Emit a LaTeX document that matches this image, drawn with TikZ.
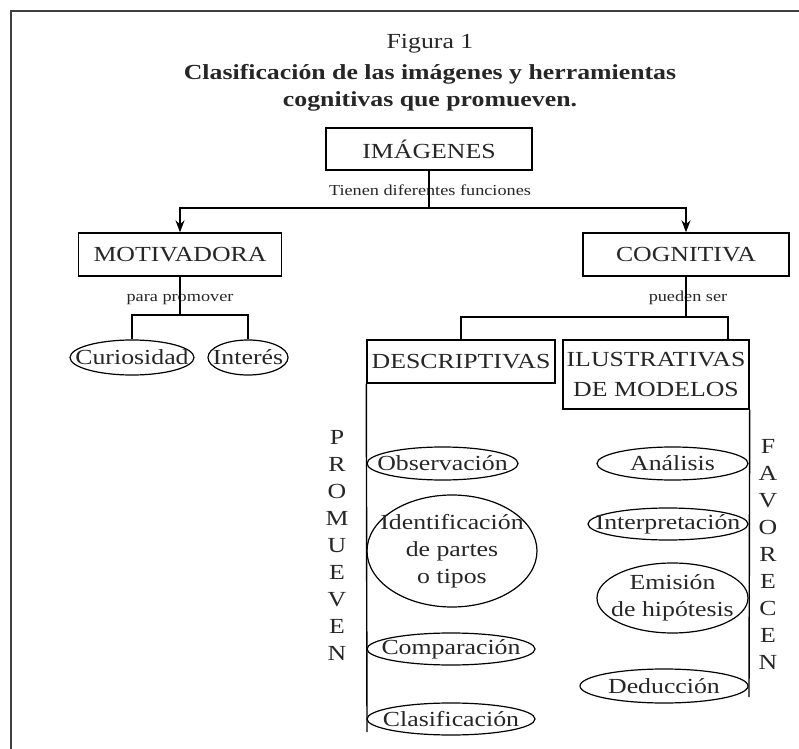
\documentclass[tikz,border=0pt]{standalone}
\usepackage{fontspec}
\setmainfont{Liberation Serif}[FakeStretch=1.2]
\usetikzlibrary{positioning,arrows.meta,shapes.geometric}

\begin{document}
\begin{tikzpicture}[x=0.5pt, y=-0.5pt,
    font=\fontsize{10.75}{13.5}\selectfont, text=black!85,
    box/.style={draw, line width=0.7pt, inner sep=0pt, align=center},
    oval/.style={draw, line width=0.6pt, ellipse, inner xsep=-50pt, inner ysep=-30pt, align=center},
    small/.style={font=\fontsize{7.6}{8}\selectfont},
    link/.style={line width=0.7pt},
    arr/.style={link, -{Stealth[length=6pt, width=4.5pt]}}]
    \useasboundingbox (0,0) rectangle (799,749);
    % frame
    \draw[line width=1pt, black!75] (10.5,749) -- (10.5,11) -- (799,11);

    % title
    \node (fig) at (430,44) {Figura 1};
    \node[font=\fontsize{10.75}{13.5}\selectfont\bfseries, align=center] (tit) at (430,88)
        {Clasificación de las imágenes y herramientas\\cognitivas que promueven.};

    % top level
    \node[box, minimum width=103pt, minimum height=21pt] (img) at (429,149) {IMÁGENES};
    \node[small] (fun) at (430,190) {Tienen diferentes funciones};
    \coordinate (f1) at (429,208);
    \node[box, minimum width=101.5pt, minimum height=21.5pt] (mot) at (180,254.5) {MOTIVADORA};
    \node[box, minimum width=103pt, minimum height=21.5pt] (cog) at (686,254.5) {COGNITIVA};
    \draw[link] (img) -- (f1);
    \draw[arr] (f1) -| (mot);
    \draw[arr] (f1) -| (cog);

    % motivadora
    \node[small] (pro) at (180,300) {para promover};
    \coordinate (f2) at (180,315);
    \node[oval, minimum width=62pt, minimum height=17.5pt] (cur) at (132,357.5) {Curiosidad};
    \node[oval, minimum width=40pt, minimum height=17.5pt] (int) at (248,357.5) {Interés};
    \draw[link] (mot) -- (f2);
    \draw[link] (cur) |- (f2) -| (int);

    % cognitiva
    \node[small] (pue) at (688,298) {pueden ser};
    \coordinate (f3) at (686,317);
    \node[box, minimum width=94pt, minimum height=21.5pt] (des) at (461,361.5) {DESCRIPTIVAS};
    \node[box, minimum width=93pt, minimum height=34.5pt, font=\fontsize{10.75}{15}\selectfont] (ilu) at (656,374.5)
        {ILUSTRATIVAS\\DE MODELOS};
    \coordinate (ilutop) at (728,340);
    \draw[link] (cog) -- (f3);
    \draw[link] (des) |- (f3) -| (ilutop);

    % side lines
    \coordinate (dend) at (367,732);
    \coordinate (iend) at (749,697);
    \draw[link] (des.south west) -- (dend);
    \draw[link] (ilu.south east) -- (iend);
    \node[align=center] (prom) at (337,545) {P\\R\\O\\M\\U\\E\\V\\E\\N};
    \node[align=center] (favo) at (768,554) {F\\A\\V\\O\\R\\E\\C\\E\\N};

    % descriptivas
    \node[oval, minimum width=75.5pt, minimum height=16.5pt] (obs) at (442.5,463.5) {Observación};
    \node[oval, minimum width=85pt, minimum height=56pt] (ide) at (452,551) {Identificación\\de partes\\o tipos};
    \node[oval, minimum width=84pt, minimum height=16pt] (com) at (451,649) {Comparación};
    \node[oval, minimum width=84pt, minimum height=16pt] (cla) at (451,719) {Clasificación};

    % ilustrativas
    \node[oval, minimum width=75.5pt, minimum height=16.5pt] (ana) at (672.5,463.5) {Análisis};
    \node[oval, minimum width=80pt, minimum height=16pt] (inp) at (668,524) {Interpretación};
    \node[oval, minimum width=75.5pt, minimum height=35pt] (emi) at (672.5,598) {Emisión\\de hipótesis};
    \node[oval, minimum width=84pt, minimum height=17pt] (ded) at (664,686) {Deducción};
\end{tikzpicture}
\end{document}
